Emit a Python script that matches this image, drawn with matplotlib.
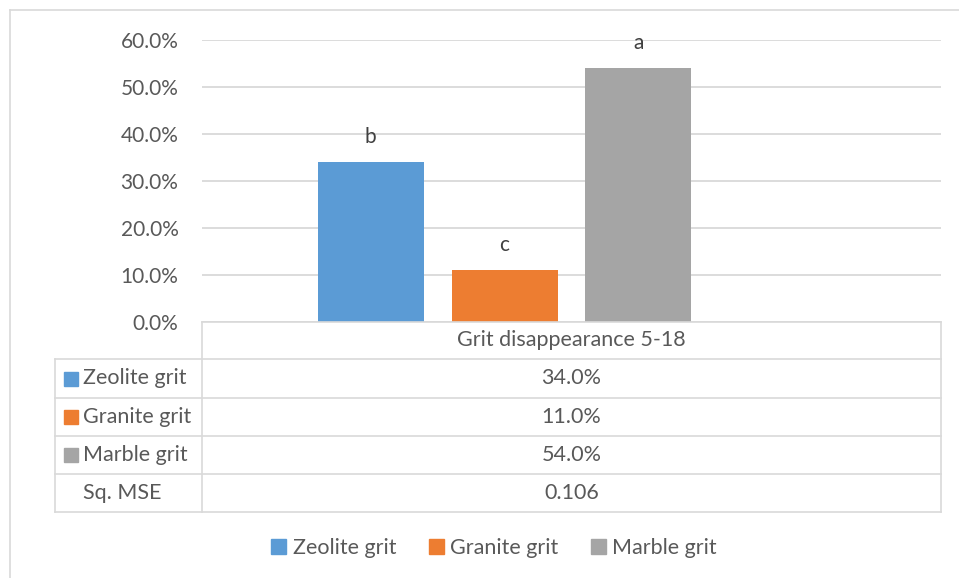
import matplotlib.pyplot as plt
import matplotlib.patches as mpatches
from matplotlib.lines import Line2D
from matplotlib.ticker import PercentFormatter

# Data
series = ["Zeolite grit", "Granite grit", "Marble grit"]
values = [0.34, 0.11, 0.54]
letters = ["b", "c", "a"]
colors = ["#5B9BD5", "#ED7D31", "#A5A5A5"]
category = "Grit disappearance 5-18"
mse_label = "Sq. MSE"
mse_value = 0.106
yticks = [0.0, 0.1, 0.2, 0.3, 0.4, 0.5, 0.6]

TXT = "#595959"
GRID = "#D9D9D9"
W, H = 959, 578
FS = 15.5

plt.rcParams['font.family'] = ['Lato', 'DejaVu Sans']


def fx(x):
    return x / W


def fy(y):
    return 1 - y / H


fig = plt.figure(figsize=(W / 100, H / 100), dpi=100)

# outer chart border
fig.add_artist(Line2D([fx(10), 1], [fy(10), fy(10)], color=GRID, lw=1.2))
fig.add_artist(Line2D([fx(10), fx(10)], [fy(10), 0], color=GRID, lw=1.2))

# plot area
left, right, top, bottom = 202, 941, 40, 322
ax = fig.add_axes([fx(left), fy(bottom), fx(right - left), (bottom - top) / H])
ax.set_ylim(0, 0.6)
ax.set_xlim(-0.5, 0.5)

# four slots (hidden 4th series for Sq. MSE), Excel-like gap width
n_slots = 4
gap = 2.18
bw = 1.0 / (n_slots + gap + (n_slots - 1) * 0.264)
step = bw * 1.264
x0 = -(n_slots * bw + (n_slots - 1) * (step - bw)) / 2 + bw / 2
for i, (v, c, lab) in enumerate(zip(values, colors, letters)):
    xi = x0 + i * step
    ax.bar(xi, v, width=bw, color=c, zorder=3)
    ax.annotate(lab, (xi, v), xytext=(0, 18), textcoords="offset points",
                ha="center", va="center", fontsize=15, color="#404040")

ax.set_yticks(yticks)
ax.yaxis.set_major_formatter(PercentFormatter(1.0, decimals=1))
ax.tick_params(axis="y", length=0, pad=17, labelsize=15, labelcolor=TXT)
ax.set_xticks([])
ax.grid(axis="y", color=GRID, lw=1.3, zorder=0)
for s in ax.spines.values():
    s.set_visible(False)

# data table
rows_y = [322, 359, 398, 436, 474, 512]
col_l, col_m, col_r = 55, 202, 941
kw = dict(color=GRID, lw=1.2)
fig.add_artist(Line2D([fx(col_m), fx(col_r)], [fy(rows_y[0])] * 2, **kw))
for y in rows_y[1:]:
    fig.add_artist(Line2D([fx(col_l), fx(col_r)], [fy(y)] * 2, **kw))
fig.add_artist(Line2D([fx(col_m)] * 2, [fy(rows_y[0]), fy(rows_y[-1])], **kw))
fig.add_artist(Line2D([fx(col_r)] * 2, [fy(rows_y[0]), fy(rows_y[-1])], **kw))
fig.add_artist(Line2D([fx(col_l)] * 2, [fy(rows_y[1]), fy(rows_y[-1])], **kw))

mid = (col_m + col_r) / 2
fig.text(fx(mid), fy((rows_y[0] + rows_y[1]) / 2), category, ha="center",
         va="center", fontsize=FS, color=TXT)

row_labels = series + [mse_label]
row_vals = [f"{v * 100:.1f}%" for v in values] + [f"{mse_value:.3f}"]
for i, (lab, val) in enumerate(zip(row_labels, row_vals)):
    yc = (rows_y[i + 1] + rows_y[i + 2]) / 2
    if i < len(series):
        fig.add_artist(mpatches.Rectangle((fx(64), fy(yc + 7)), 14 / W, 14 / H,
                                          color=colors[i], transform=fig.transFigure))
    fig.text(fx(83), fy(yc), lab, ha="left", va="center", fontsize=FS, color=TXT)
    fig.text(fx(mid), fy(yc), val, ha="center", va="center", fontsize=FS, color=TXT)

# legend
handles = [mpatches.Patch(color=c, label=s) for c, s in zip(colors, series)]
fig.legend(handles=handles, loc="center", bbox_to_anchor=(fx(494), fy(548)),
           ncol=3, frameon=False, fontsize=FS, labelcolor=TXT,
           handlelength=0.7, handleheight=0.7, handletextpad=0.3,
           columnspacing=1.5)

fig.savefig("out.png", dpi=100, facecolor="white")
